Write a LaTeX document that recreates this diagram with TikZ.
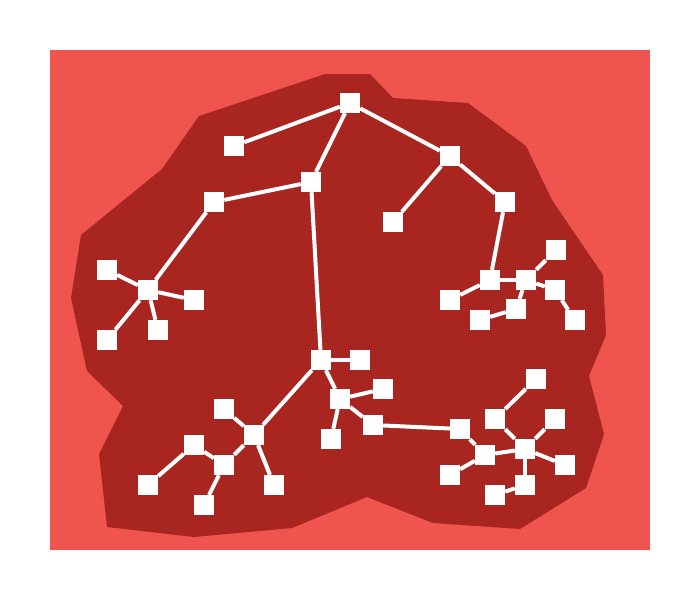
\documentclass[tikz,border=0pt]{standalone}
\definecolor{bgred}{RGB}{239,85,78}
\definecolor{blobred}{RGB}{168,37,32}
\begin{document}
\begin{tikzpicture}[x=1pt,y=-1pt,
  sq/.style={fill=white,minimum size=20pt,inner sep=0pt},
  link/.style={white,line width=4pt}]
  \useasboundingbox (0,0) rectangle (700,600);
  \fill[bgred] (50,50) rectangle (650,550);
  \fill[blobred] (325,74)--(370,74)--(393,98)--(468,103)--(526,146)--(552,200)
    --(603,275)--(606,335)--(589,376)--(604,434)--(586,488)--(520,529)--(433,523)
    --(367,497)--(292,528)--(194,537)--(107,527)--(99,454)--(123,406)--(87,371)
    --(71,298)--(81,235)--(162,169)--(199,116)--cycle;
  % upper part
  \node[sq] (root) at (350,103){};
  \node[sq] (tip) at (234,146){};
  \node[sq] (right) at (450,156){};
  \node[sq] (leaf) at (393,222){};
  \node[sq] (rdown) at (505,202){};
  \node[sq] (ra) at (490,280){};
  \node[sq] (rb) at (526,280){};
  \node[sq] (rc) at (556,250){};
  \node[sq] (rd) at (555,290){};
  \node[sq] (re) at (575,320){};
  \node[sq] (rf) at (516,309){};
  \node[sq] (rg) at (480,320){};
  \node[sq] (rh) at (450,300){};
  \node[sq] (mid) at (311,182){};
  \node[sq] (left) at (214,202){};
  \node[sq] (lhub) at (148,290){};
  \node[sq] (la) at (107,270){};
  \node[sq] (lb) at (194,300){};
  \node[sq] (lc) at (158,330){};
  \node[sq] (ld) at (107,340){};
  % lower part
  \node[sq] (center) at (321,360){};
  \node[sq] (ca) at (360,360){};
  \node[sq] (cb) at (340,399){};
  \node[sq] (cc) at (383,389){};
  \node[sq] (cd) at (373,425){};
  \node[sq] (ce) at (331,439){};
  \node[sq] (bhub) at (254,435){};
  \node[sq] (ba) at (224,409){};
  \node[sq] (bb) at (224,465){};
  \node[sq] (bc) at (274,485){};
  \node[sq] (bd) at (194,445){};
  \node[sq] (be) at (148,485){};
  \node[sq] (bf) at (204,505){};
  \node[sq] (sa) at (460,429){};
  \node[sq] (sb) at (485,455){};
  \node[sq] (sc) at (450,475){};
  \node[sq] (shub) at (525,449){};
  \node[sq] (sd) at (495,419){};
  \node[sq] (se) at (536,379){};
  \node[sq] (sf) at (555,419){};
  \node[sq] (sg) at (565,465){};
  \node[sq] (sh) at (525,485){};
  \node[sq] (si) at (495,495){};
  \foreach \a/\b in {root/tip,root/mid,root/right,right/leaf,right/rdown,rdown/ra,
      ra/rh,ra/rb,rb/rc,rb/rd,rd/re,rb/rf,rf/rg,mid/left,mid/center,left/lhub,
      lhub/la,lhub/lb,lhub/lc,lhub/ld,center/ca,center/cb,cb/cc,cb/cd,cb/ce,
      center/bhub,bhub/ba,bhub/bb,bhub/bc,bb/bd,bd/be,bb/bf,cd/sa,sa/sb,sb/sc,
      sb/shub,shub/sd,sd/se,shub/sf,shub/sg,shub/sh,sh/si}
    \draw[link] (\a)--(\b);
\end{tikzpicture}
\end{document}
